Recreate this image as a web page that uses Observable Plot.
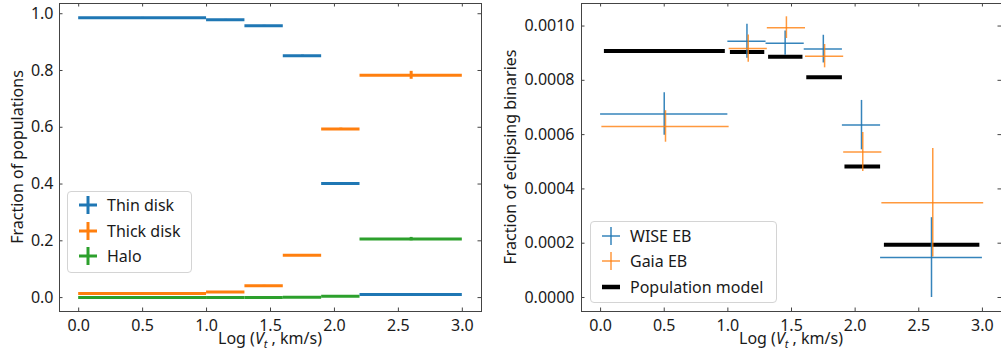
<!DOCTYPE html>
<html><head><meta charset="utf-8">
<script src="https://cdn.jsdelivr.net/npm/d3@7"></script>
<script src="https://cdn.jsdelivr.net/npm/@observablehq/plot@0.6"></script>
<style>
body{margin:0;background:#fff;font-family:"Noto Sans",sans-serif;}
#wrap{position:relative;width:1001px;height:360px;overflow:hidden;}
.panel{position:absolute;top:0;overflow:visible;}
.legend{position:absolute;background:rgba(255,255,255,0.8);border:1px solid #d4d4d4;border-radius:4px;box-sizing:border-box;}
.mk{position:absolute;}
.lt{position:absolute;font-size:16px;line-height:1;color:#1a1a1a;transform:translateY(-50%);white-space:nowrap;}
</style></head>
<body><div id="wrap"></div>
<script>
// ---- bins ----
const binLo  = [0.0, 1.0, 1.3, 1.6, 1.9, 2.2];
const binHi  = [1.0, 1.3, 1.6, 1.9, 2.2, 3.0];
const binMid = [0.5, 1.15, 1.45, 1.75, 2.05, 2.6];

// ---- left panel: fraction of populations ----
const thinDisk    = [0.986, 0.979, 0.958, 0.852, 0.402, 0.011];
const thinErr     = [0.001, 0.001, 0.001, 0.002, 0.002, 0.001];
const thickDisk   = [0.014, 0.020, 0.042, 0.149, 0.594, 0.783];
const thickErr    = [0.001, 0.001, 0.001, 0.002, 0.003, 0.014];
const halo        = [0.000, 0.000, 0.000, 0.001, 0.005, 0.206];
const haloErr     = [0.000, 0.000, 0.000, 0.001, 0.001, 0.006];

// ---- right panel: fraction of eclipsing binaries ----
const wiseLo  = [0.0, 1.0, 1.3, 1.6, 1.9, 2.2];
const wiseHi  = [1.0, 1.3, 1.6, 1.9, 2.2, 3.0];
const wiseX   = [0.5, 1.15, 1.45, 1.75, 2.05, 2.6];
const wiseY   = [6.76e-4, 9.44e-4, 9.37e-4, 9.15e-4, 6.35e-4, 1.47e-4];
const wiseErr = [0.78e-4, 0.63e-4, 0.45e-4, 0.51e-4, 0.91e-4, 1.47e-4];

const gaiaLo  = [0.01, 1.01, 1.31, 1.61, 1.91, 2.21];
const gaiaHi  = [1.01, 1.31, 1.61, 1.91, 2.21, 3.01];
const gaiaX   = [0.51, 1.16, 1.46, 1.76, 2.06, 2.61];
const gaiaY   = [6.30e-4, 9.17e-4, 9.94e-4, 8.89e-4, 5.36e-4, 3.49e-4];
const gaiaErr = [0.58e-4, 0.50e-4, 0.40e-4, 0.43e-4, 0.72e-4, 2.00e-4];

const modelLo = [0.03, 1.02, 1.32, 1.62, 1.92, 2.23];
const modelHi = [0.98, 1.29, 1.59, 1.90, 2.20, 2.98];
const modelY  = [9.08e-4, 9.04e-4, 8.87e-4, 8.11e-4, 4.83e-4, 1.94e-4];

// ---- ticks ----
const xTicks      = [0, 0.5, 1.0, 1.5, 2.0, 2.5, 3.0];
const yTicksLeft  = [0, 0.2, 0.4, 0.6, 0.8, 1.0];
const yTicksRight = [0, 0.0002, 0.0004, 0.0006, 0.0008, 0.0010];

const legendLeft  = ["Thin disk", "Thick disk", "Halo"];
const legendRight = ["WISE EB", "Gaia EB", "Population model"];
const xLabelParts = ["Log (", "V", "t", " , km/s)"];
const yLabelLeft  = "Fraction of populations";
const yLabelRight = "Fraction of eclipsing binaries";

const C = {blue: "#1f77b4", orange: "#ff7f0e", green: "#2ca02c"};

const H = 360, MT = 3, MB = 49;
const innerH = H - MT - MB;

function rows(lo, hi, mid, v, e) {
  return lo.map((_, i) => ({lo: lo[i], hi: hi[i], mid: mid[i], v: v[i], e: e ? e[i] : 0}));
}

function tickMarks(W, ML, MR, yt) {
  const innerW = W - ML - MR;
  const s = "#444", L = 3.5;
  return [
    Plot.tickX(xTicks, {x: d => d, insetTop: innerH - L, stroke: s}),
    Plot.tickX(xTicks, {x: d => d, insetBottom: innerH - L, stroke: s}),
    Plot.tickY(yt, {y: d => d, insetRight: innerW - L, stroke: s}),
    Plot.tickY(yt, {y: d => d, insetLeft: innerW - L, stroke: s})
  ];
}

function errMarks(data, color, sw, swv, op = 1) {
  return [
    Plot.ruleY(data, {y: "v", x1: "lo", x2: "hi", stroke: color, strokeWidth: sw, strokeOpacity: op}),
    Plot.ruleX(data.filter(d => d.e > 0), {x: "mid", y1: d => d.v - d.e, y2: d => d.v + d.e, stroke: color, strokeWidth: swv, strokeOpacity: op})
  ];
}

function addLabels(svg, W, ML, MR, ylabel, yx) {
  const sel = d3.select(svg);
  const t = sel.append("text")
    .attr("x", (ML + W - MR) / 2).attr("y", 344)
    .attr("text-anchor", "middle").attr("fill", "#1a1a1a")
    .style("font-family", "Noto Sans").style("font-size", "16px");
  t.append("tspan").text(xLabelParts[0]);
  t.append("tspan").style("font-style", "italic").text(xLabelParts[1]);
  t.append("tspan").style("font-style", "italic").style("font-size", "11px").attr("dy", 4).text(xLabelParts[2]);
  t.append("tspan").attr("dy", -4).text(xLabelParts[3]);
  sel.append("text")
    .attr("transform", `translate(${yx},${MT + innerH / 2}) rotate(-90)`)
    .attr("text-anchor", "middle").attr("dominant-baseline", "central")
    .attr("fill", "#1a1a1a")
    .style("font-family", "Noto Sans").style("font-size", "16px")
    .text(ylabel);
}

const wrap = document.getElementById("wrap");

// ---------- Left panel ----------
{
  const W = 500, ML = 59, MR = 19;
  const thin = rows(binLo, binHi, binMid, thinDisk, thinErr);
  const thick = rows(binLo, binHi, binMid, thickDisk, thickErr);
  const hal = rows(binLo, binHi, binMid, halo, haloErr);
  const p = Plot.plot({
    width: W, height: H, marginLeft: ML, marginRight: MR, marginTop: MT, marginBottom: MB,
    style: {fontFamily: "Noto Sans", fontSize: "16px", color: "#1a1a1a", background: "transparent", overflow: "visible"},
    x: {domain: [-0.15, 3.15]},
    y: {domain: [-0.049, 1.036]},
    marks: [
      ...errMarks(thin, C.blue, 3, 3),
      ...errMarks(thick, C.orange, 3, 3),
      ...errMarks(hal, C.green, 3, 3),
      ...tickMarks(W, ML, MR, yTicksLeft),
      Plot.frame({stroke: "#444"}),
      Plot.axisX({ticks: xTicks, tickFormat: d3.format(".1f"), tickSize: 0, tickPadding: 8, label: null}),
      Plot.axisY({ticks: yTicksLeft, tickFormat: d3.format(".1f"), tickSize: 0, tickPadding: 6, label: null})
    ]
  });
  addLabels(p, W, ML, MR, yLabelLeft, 17);
  p.classList.add("panel"); p.style.left = "0px";
  wrap.appendChild(p);
}

// ---------- Right panel ----------
{
  const W = 501, ML = 81, MR = 0;
  const wise = rows(wiseLo, wiseHi, wiseX, wiseY, wiseErr);
  const gaia = rows(gaiaLo, gaiaHi, gaiaX, gaiaY, gaiaErr);
  const model = rows(modelLo, modelHi, modelLo, modelY, null);
  const p = Plot.plot({
    width: W, height: H, marginLeft: ML, marginRight: MR, marginTop: MT, marginBottom: MB,
    style: {fontFamily: "Noto Sans", fontSize: "16px", color: "#1a1a1a", background: "transparent", overflow: "visible"},
    x: {domain: [-0.15, 3.15]},
    y: {domain: [-0.0000516, 0.001083]},
    marks: [
      Plot.ruleY(model, {y: "v", x1: "lo", x2: "hi", stroke: "#000", strokeWidth: 4}),
      ...errMarks(wise, C.blue, 1.5, 1.5, 0.9),
      ...errMarks(gaia, C.orange, 1.5, 1.5, 0.8),
      ...tickMarks(W, ML, MR, yTicksRight),
      Plot.frame({stroke: "#444"}),
      Plot.axisX({ticks: xTicks, tickFormat: d3.format(".1f"), tickSize: 0, tickPadding: 8, label: null}),
      Plot.axisY({ticks: yTicksRight, tickFormat: d3.format(".4f"), tickSize: 0, tickPadding: 7, label: null})
    ]
  });
  addLabels(p, W, ML, MR, yLabelRight, 10);
  p.classList.add("panel"); p.style.left = "500px";
  wrap.appendChild(p);
}

// ---------- Legends ----------
function legend(box, items) {
  const div = document.createElement("div");
  div.className = "legend";
  Object.assign(div.style, {left: box.x + "px", top: box.y + "px", width: box.w + "px", height: box.h + "px"});
  items.forEach(it => {
    const s = 18;
    const svg = d3.create("svg").attr("class", "mk").attr("width", s).attr("height", s)
      .style("left", (it.mx - s / 2) + "px").style("top", (it.cy - s / 2) + "px");
    if (it.kind === "plus") {
      svg.append("line").attr("x1", 0).attr("x2", s).attr("y1", s / 2).attr("y2", s / 2)
        .attr("stroke", it.color).attr("stroke-width", it.sw).attr("stroke-opacity", it.op || 1);
      svg.append("line").attr("y1", 0).attr("y2", s).attr("x1", s / 2).attr("x2", s / 2)
        .attr("stroke", it.color).attr("stroke-width", it.sw).attr("stroke-opacity", it.op || 1);
    } else {
      svg.append("line").attr("x1", 0).attr("x2", s).attr("y1", s / 2).attr("y2", s / 2)
        .attr("stroke", it.color).attr("stroke-width", it.sw);
    }
    div.appendChild(svg.node());
    const t = document.createElement("span");
    t.className = "lt"; t.textContent = it.label;
    t.style.left = it.tx + "px"; t.style.top = it.cy + "px";
    div.appendChild(t);
  });
  wrap.appendChild(div);
}

legend({x: 67, y: 191, w: 125, h: 82}, [
  {label: legendLeft[0], color: C.blue, sw: 3, kind: "plus", mx: 19.5, tx: 39, cy: 13},
  {label: legendLeft[1], color: C.orange, sw: 3, kind: "plus", mx: 19.5, tx: 39, cy: 38.5},
  {label: legendLeft[2], color: C.green, sw: 3, kind: "plus", mx: 19.5, tx: 39, cy: 64}
]);
legend({x: 590, y: 221, w: 187, h: 82}, [
  {label: legendRight[0], color: C.blue, sw: 1.5, op: 0.9, kind: "plus", mx: 20, tx: 39, cy: 13.5},
  {label: legendRight[1], color: C.orange, sw: 1.5, op: 0.8, kind: "plus", mx: 20, tx: 39, cy: 39},
  {label: legendRight[2], color: "#000", sw: 4.5, kind: "bar", mx: 20, tx: 39, cy: 64.5}
]);
</script>
</body></html>
